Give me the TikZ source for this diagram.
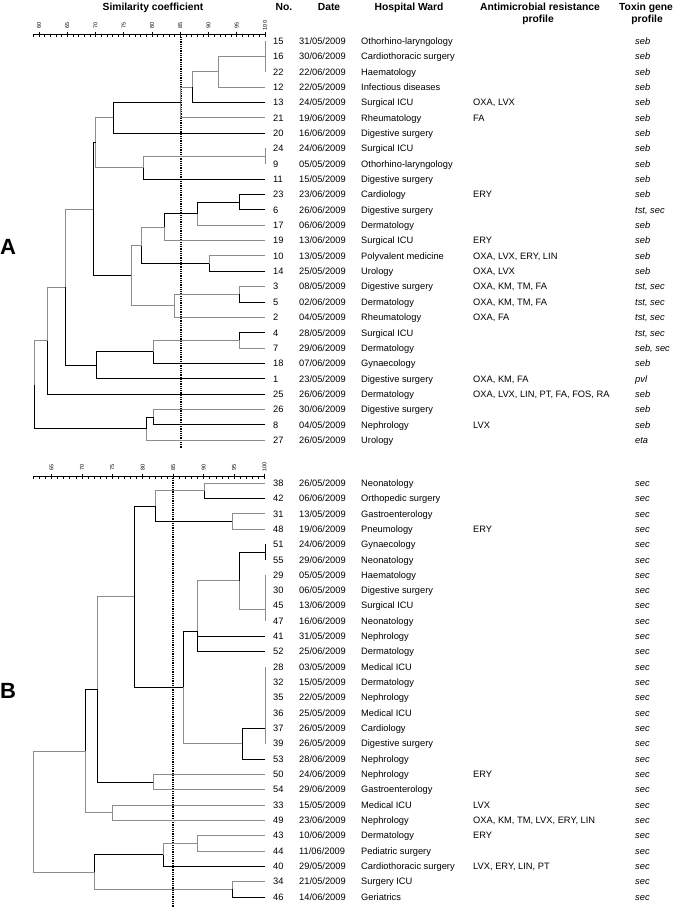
\documentclass[tikz,border=0pt]{standalone}
\usepackage{fontspec}
\setmainfont{Liberation Sans}
\newcommand\strain[7]{%
 \coordinate (#1) at (265,#2);
 \node[txt] (#1n) at (273,#2) {#3};
 \node[txt] (#1d) at (299,#2) {#4};
 \node[txt] (#1w) at (361,#2) {#5};
 \if\relax\detokenize{#6}\relax\else\node[txt] (#1r) at (473,#2) {#6};\fi
 \node[tox] (#1t) at (635,#2) {#7};
}
\begin{document}
\begin{tikzpicture}[x=1pt,y=-1pt,
  txt/.style={anchor=west,inner sep=0pt,text height=6.7pt,text depth=0pt,font=\fontsize{9.3}{11}\selectfont},
  tox/.style={txt,font=\fontsize{9.3}{11}\selectfont\itshape},
  hdr/.style={inner sep=0pt,font=\fontsize{10.3}{12}\selectfont\bfseries,text height=7.4pt,text depth=0pt},
  blk/.style={draw=black,line width=0.9pt},
  gry/.style={draw=black!45,line width=0.9pt},
  tick/.style={inner sep=0pt,font=\fontsize{5.5}{6}\selectfont,rotate=90},
  axis/.style={draw=black,line width=0.6pt},
  cut/.style={draw=black,line width=1.3pt,dash pattern=on 1pt off 0.8pt},
  big/.style={inner sep=0pt,font=\fontsize{22}{22}\selectfont\bfseries},
]
\useasboundingbox[fill=white] (0,0) rectangle (685,907);
% headers
\node[hdr] (hsim) at (153,7) {Similarity coefficient};
\node[hdr] (hno) at (284,7) {No.};
\node[hdr] (hdate) at (329,7) {Date};
\node[hdr] (hward) at (409,7) {Hospital Ward};
\node[hdr] (hamr1) at (540,7) {Antimicrobial resistance};
\node[hdr] (hamr2) at (538,19) {profile};
\node[hdr] (htox1) at (646,7) {Toxin gene};
\node[hdr] (htox2) at (647,19) {profile};
% panel labels
\node[big] (labA) at (8,247) {A};
\node[big] (labB) at (8,691) {B};
% axis A
\draw[axis] (33,34.5) -- (265,34.5);
\foreach \v in {59,...,100} {\draw[axis] ({39+(\v-60)*5.65},34.5) -- ++(0,2.5);}
\foreach \v in {60,65,...,100} {\draw[axis] ({39+(\v-60)*5.65},32) -- ++(0,5.5);
  \node[tick] at ({39+(\v-60)*5.65},25.5) {\v};}
% axis B
\draw[axis] (33,476) -- (265,476);
\foreach \v in {62,...,100} {\draw[axis] ({51.5+(\v-65)*6.086},476) -- ++(0,2.5);}
\foreach \v in {65,70,...,100} {\draw[axis] ({51.5+(\v-65)*6.086},473.5) -- ++(0,5.5);
  \node[tick] at ({51.5+(\v-65)*6.086},467) {\v};}
% cut-off lines
\draw[cut] (181,37) -- (181,448);
\draw[cut] (173,478) -- (173,907);
% rows A
\strain{a15}{41}{15}{31/05/2009}{Othorhino-laryngology}{}{seb}
\strain{a16}{56.35}{16}{30/06/2009}{Cardiothoracic surgery}{}{seb}
\strain{a22}{71.7}{22}{22/06/2009}{Haematology}{}{seb}
\strain{a12}{87.05}{12}{22/05/2009}{Infectious diseases}{}{seb}
\strain{a13}{102.4}{13}{24/05/2009}{Surgical ICU}{OXA, LVX}{seb}
\strain{a21}{117.75}{21}{19/06/2009}{Rheumatology}{FA}{seb}
\strain{a20}{133.1}{20}{16/06/2009}{Digestive surgery}{}{seb}
\strain{a24}{148.45}{24}{24/06/2009}{Surgical ICU}{}{seb}
\strain{a9}{163.8}{9}{05/05/2009}{Othorhino-laryngology}{}{seb}
\strain{a11}{179.15}{11}{15/05/2009}{Digestive surgery}{}{seb}
\strain{a23}{194.5}{23}{23/06/2009}{Cardiology}{ERY}{seb}
\strain{a6}{209.85}{6}{26/06/2009}{Digestive surgery}{}{tst, sec}
\strain{a17}{225.2}{17}{06/06/2009}{Dermatology}{}{seb}
\strain{a19}{240.55}{19}{13/06/2009}{Surgical ICU}{ERY}{seb}
\strain{a10}{255.9}{10}{13/05/2009}{Polyvalent medicine}{OXA, LVX, ERY, LIN}{seb}
\strain{a14}{271.25}{14}{25/05/2009}{Urology}{OXA, LVX}{seb}
\strain{a3}{286.6}{3}{08/05/2009}{Digestive surgery}{OXA, KM, TM, FA}{tst, sec}
\strain{a5}{301.95}{5}{02/06/2009}{Dermatology}{OXA, KM, TM, FA}{tst, sec}
\strain{a2}{317.3}{2}{04/05/2009}{Rheumatology}{OXA, FA}{tst, sec}
\strain{a4}{332.65}{4}{28/05/2009}{Surgical ICU}{}{tst, sec}
\strain{a7}{348}{7}{29/06/2009}{Dermatology}{}{seb, sec}
\strain{a18}{363.35}{18}{07/06/2009}{Gynaecology}{}{seb}
\strain{a1}{378.7}{1}{23/05/2009}{Digestive surgery}{OXA, KM, FA}{pvl}
\strain{a25}{394.05}{25}{26/06/2009}{Dermatology}{OXA, LVX, LIN, PT, FA, FOS, RA}{seb}
\strain{a26}{409.4}{26}{30/06/2009}{Digestive surgery}{}{seb}
\strain{a8}{424.75}{8}{04/05/2009}{Nephrology}{LVX}{seb}
\strain{a27}{440.1}{27}{26/05/2009}{Urology}{}{eta}
% rows B
\strain{b38}{483}{38}{26/05/2009}{Neonatology}{}{sec}
\strain{b42}{498.33}{42}{06/06/2009}{Orthopedic surgery}{}{sec}
\strain{b31}{513.66}{31}{13/05/2009}{Gastroenterology}{}{sec}
\strain{b48}{529}{48}{19/06/2009}{Pneumology}{ERY}{sec}
\strain{b51}{544.3}{51}{24/06/2009}{Gynaecology}{}{sec}
\strain{b55}{559.65}{55}{29/06/2009}{Neonatology}{}{sec}
\strain{b29}{575}{29}{05/05/2009}{Haematology}{}{sec}
\strain{b30}{590.3}{30}{06/05/2009}{Digestive surgery}{}{sec}
\strain{b45}{605.6}{45}{13/06/2009}{Surgical ICU}{}{sec}
\strain{b47}{621}{47}{16/06/2009}{Neonatology}{}{sec}
\strain{b41}{636.3}{41}{31/05/2009}{Nephrology}{}{sec}
\strain{b52}{651.6}{52}{25/06/2009}{Dermatology}{}{sec}
\strain{b28}{667}{28}{03/05/2009}{Medical ICU}{}{sec}
\strain{b32}{682.3}{32}{15/05/2009}{Dermatology}{}{sec}
\strain{b35}{697.6}{35}{22/05/2009}{Nephrology}{}{sec}
\strain{b36}{713}{36}{25/05/2009}{Medical ICU}{}{sec}
\strain{b37}{728.3}{37}{26/05/2009}{Cardiology}{}{sec}
\strain{b39}{743.6}{39}{26/05/2009}{Digestive surgery}{}{sec}
\strain{b53}{759}{53}{28/06/2009}{Nephrology}{}{sec}
\strain{b50}{774.3}{50}{24/06/2009}{Nephrology}{ERY}{sec}
\strain{b54}{789.6}{54}{29/06/2009}{Gastroenterology}{}{sec}
\strain{b33}{805}{33}{15/05/2009}{Medical ICU}{LVX}{sec}
\strain{b49}{820.3}{49}{23/06/2009}{Nephrology}{OXA, KM, TM, LVX, ERY, LIN}{sec}
\strain{b43}{835.6}{43}{10/06/2009}{Dermatology}{ERY}{sec}
\strain{b44}{851}{44}{11/06/2009}{Pediatric surgery}{}{sec}
\strain{b40}{866.3}{40}{29/05/2009}{Cardiothoracic surgery}{LVX, ERY, LIN, PT}{sec}
\strain{b34}{881.6}{34}{21/05/2009}{Surgery ICU}{}{sec}
\strain{b46}{897}{46}{14/06/2009}{Geriatrics}{}{sec}
% internal nodes A
\coordinate (A1) at (265,56.35);
\coordinate (A2) at (218,71.7);
\coordinate (A3) at (192,87.05);
\coordinate (A4) at (180.5,102.4);
\coordinate (A5) at (113,117.75);
\coordinate (A6) at (265,156.1);
\coordinate (A7) at (143,167.6);
\coordinate (A8) at (95.5,142.7);
\coordinate (A9) at (239,202.2);
\coordinate (A10) at (197,213.7);
\coordinate (A11) at (164,227.1);
\coordinate (A12) at (209,263.6);
\coordinate (A13) at (141.5,245.4);
\coordinate (A14) at (239,294.3);
\coordinate (A15) at (174.5,305.8);
\coordinate (A16) at (131,275.6);
\coordinate (A17) at (93,209.2);
\coordinate (A18) at (239,340.3);
\coordinate (A19) at (153,351.8);
\coordinate (A20) at (96,365.3);
\coordinate (A21) at (65,287.2);
\coordinate (A22) at (47,340.6);
\coordinate (A23) at (153,417.1);
\coordinate (A24) at (146,428.6);
\coordinate (A25) at (34,384.6);
% connectors A
\draw[gry] (A1) |- (a15); \draw[gry] (A1) |- (a16); \draw[gry] (A1) |- (a22);
\draw[gry] (A2) |- (A1); \draw[gry] (A2) |- (a12);
\draw[gry] (A3) |- (A2); \draw[blk] (A3) |- (a13);
\draw[gry] (A4) |- (A3); \draw[gry] (A4) |- (a21);
\draw[blk] (A5) |- (A4); \draw[blk] (A5) |- (a20);
\draw[gry] (A6) |- (a24); \draw[gry] (A6) |- (a9);
\draw[gry] (A7) |- (A6); \draw[blk] (A7) |- (a11);
\draw[gry] (A8) |- (A5); \draw[gry] (A8) |- (A7);
\draw[blk] (A9) |- (a23); \draw[blk] (A9) |- (a6);
\draw[blk] (A10) |- (A9); \draw[gry] (A10) |- (a17);
\draw[blk] (A11) |- (A10); \draw[gry] (A11) |- (a19);
\draw[gry] (A12) |- (a10); \draw[blk] (A12) |- (a14);
\draw[gry] (A13) |- (A11); \draw[blk] (A13) |- (A12);
\draw[gry] (A14) |- (a3); \draw[blk] (A14) |- (a5);
\draw[gry] (A15) |- (A14); \draw[gry] (A15) |- (a2);
\draw[gry] (A16) |- (A13); \draw[gry] (A16) |- (A15);
\draw[blk] (A17) |- (A8); \draw[blk] (A17) |- (A16);
\draw[blk] (A18) |- (a4); \draw[gry] (A18) |- (a7);
\draw[gry] (A19) |- (A18); \draw[blk] (A19) |- (a18);
\draw[blk] (A20) |- (A19); \draw[blk] (A20) |- (a1);
\draw[gry] (A21) |- (A17); \draw[blk] (A21) |- (A20);
\draw[gry] (A22) |- (A21); \draw[blk] (A22) |- (a25);
\draw[gry] (A23) |- (a26); \draw[blk] (A23) |- (a8);
\draw[blk] (A24) |- (A23); \draw[gry] (A24) |- (a27);
\draw[gry] (A25) |- (A22); \draw[blk] (A25) |- (A24);
% internal nodes B
\coordinate (B1) at (204,490.7);
\coordinate (B2) at (232,521.3);
\coordinate (B3) at (155,506);
\coordinate (B4) at (265,552);
\coordinate (B5) at (265,609);
\coordinate (B6) at (239,580.5);
\coordinate (B7) at (197.5,631);
\coordinate (B8) at (265,728.3);
\coordinate (B9) at (242,743.6);
\coordinate (B10) at (183,687.3);
\coordinate (B11) at (134,596.6);
\coordinate (B12) at (153,782);
\coordinate (B13) at (97,689.3);
\coordinate (B14) at (112,812.6);
\coordinate (B15) at (85,751);
\coordinate (B16) at (197,843.3);
\coordinate (B17) at (163,854.8);
\coordinate (B18) at (232,889.3);
\coordinate (B19) at (94,872);
\coordinate (B20) at (33,811.5);
% connectors B
\draw[gry] (B1) |- (b38); \draw[blk] (B1) |- (b42);
\draw[gry] (B2) |- (b31); \draw[gry] (B2) |- (b48);
\draw[gry] (B3) |- (B1); \draw[blk] (B3) |- (B2);
\draw[blk] (B4) |- (b51); \draw[blk] (B4) |- (b55);
\draw[gry] (B5) |- (b29); \draw[gry] (B5) |- (b30); \draw[gry] (B5) |- (b45); \draw[gry] (B5) |- (b47);
\draw[blk] (B6) |- (B4); \draw[gry] (B6) |- (B5);
\draw[gry] (B7) |- (B6); \draw[blk] (B7) |- (b41); \draw[blk] (B7) |- (b52);
\draw[gry] (B8) |- (b28); \draw[gry] (B8) |- (b32); \draw[gry] (B8) |- (b35);
\draw[gry] (B8) |- (b36); \draw[gry] (B8) |- (b37); \draw[gry] (B8) |- (b39);
\draw[blk] (B9) |- (B8); \draw[blk] (B9) |- (b53);
\draw[blk] (B10) |- (B7); \draw[gry] (B10) |- (B9);
\draw[blk] (B11) |- (B3); \draw[blk] (B11) |- (B10);
\draw[gry] (B12) |- (b50); \draw[gry] (B12) |- (b54);
\draw[gry] (B13) |- (B11); \draw[blk] (B13) |- (B12);
\draw[gry] (B14) |- (b33); \draw[gry] (B14) |- (b49);
\draw[blk] (B15) |- (B13); \draw[gry] (B15) |- (B14);
\draw[gry] (B16) |- (b43); \draw[gry] (B16) |- (b44);
\draw[gry] (B17) |- (B16); \draw[blk] (B17) |- (b40);
\draw[gry] (B18) |- (b34); \draw[blk] (B18) |- (b46);
\draw[blk] (B19) |- (B17); \draw[gry] (B19) |- (B18);
\draw[gry] (B20) |- (B15); \draw[gry] (B20) |- (B19);
\end{tikzpicture}
\end{document}
